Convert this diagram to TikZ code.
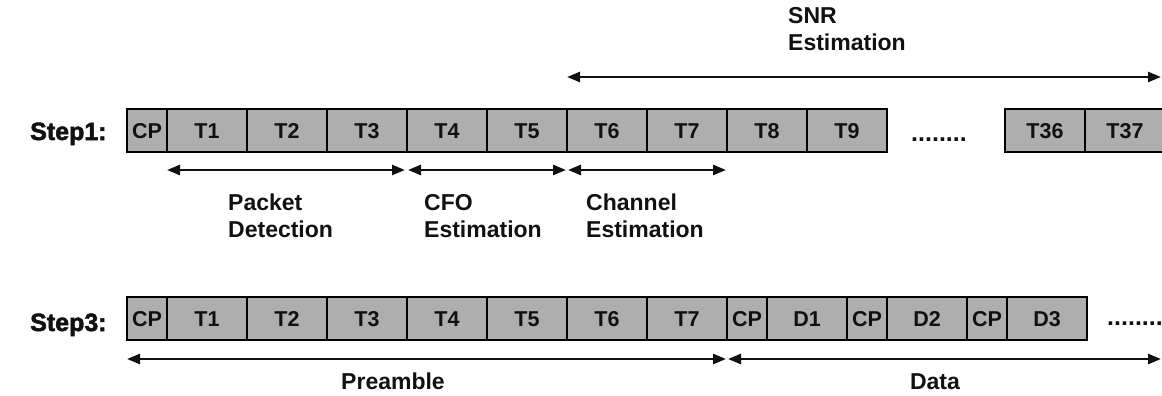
\documentclass[tikz,border=0pt]{standalone}
\usepackage{fontspec}
\setmainfont{Liberation Sans}
\newfontfamily\heavyfont{Liberation Sans Bold}[FakeBold=2]
\usepackage{tikz}
\usetikzlibrary{arrows.meta,positioning}
\definecolor{CellGray}{HTML}{AEAEAE}
\definecolor{Ink}{HTML}{111111}
\tikzset{
  cell/.style={
    draw=black,line width=2.2pt,fill=CellGray,
    inner sep=0pt,outer sep=0pt,
    minimum height=43pt,minimum width=80pt,
    text height=15.5pt,text depth=0pt,
    font=\fontsize{21.5}{24}\selectfont\bfseries,text=Ink
  },
  cpcell/.style={cell,minimum width=40pt},
  steplabel/.style={font=\fontsize{25}{30}\selectfont\heavyfont,text=Ink,inner sep=0pt},
  note/.style={
    font=\fontsize{23}{27}\selectfont\bfseries,text=Ink,
    align=left,inner sep=0pt
  },
  dots/.style={font=\fontsize{25}{30}\selectfont\bfseries,text=Ink,inner sep=0pt},
  span/.style={
    {Triangle[length=13pt,width=10pt]}-{Triangle[length=13pt,width=10pt]},
    line width=2.6pt,draw=Ink
  }
}
\begin{document}
\begin{tikzpicture}[x=1pt,y=-1pt]
  \useasboundingbox[fill=white] (0,0) rectangle (1162,396);

  % Step 1
  \node[steplabel,anchor=base west] (stepone) at (30,140) {Step1:};
  \node[cpcell,anchor=north west] (cpa) at (127,109) {CP};
  \node[cell,right=0pt of cpa] (t1a) {T1};
  \node[cell,right=0pt of t1a] (t2a) {T2};
  \node[cell,right=0pt of t2a] (t3a) {T3};
  \node[cell,right=0pt of t3a] (t4a) {T4};
  \node[cell,right=0pt of t4a] (t5a) {T5};
  \node[cell,right=0pt of t5a] (t6a) {T6};
  \node[cell,right=0pt of t6a] (t7a) {T7};
  \node[cell,right=0pt of t7a] (t8a) {T8};
  \node[cell,right=0pt of t8a] (t9a) {T9};
  \node[dots,anchor=base west] (dotsa) at (911,141) {........};
  \node[cell,anchor=north west] (t36a) at (1005,109) {T36};
  \node[cell,right=0pt of t36a] (t37a) {T37};

  \coordinate (snrend) at (1161,77);
  \draw[span] ([yshift=32pt]t6a.north west) -- (snrend);
  \node[note,anchor=base west] (snr) at (788,51) {SNR\\Estimation};

  \draw[span] ([yshift=-18pt]t1a.south west) -- ([yshift=-18pt,xshift=-2pt]t3a.south east);
  \draw[span] ([yshift=-18pt,xshift=1pt]t4a.south west) -- ([yshift=-18pt,xshift=-1pt]t5a.south east);
  \draw[span] ([yshift=-18pt,xshift=1pt]t6a.south west) -- ([yshift=-18pt,xshift=-1pt]t7a.south east);
  \node[note,anchor=base west] (pdet) at (228,237) {Packet\\Detection};
  \node[note,anchor=base west] (cfo) at (424,237) {CFO\\Estimation};
  \node[note,anchor=base west] (chan) at (586,237) {Channel\\Estimation};

  % Step 3
  \node[steplabel,anchor=base west] (stepthree) at (30,331) {Step3:};
  \node[cpcell,anchor=north west] (cpb) at (127,297) {CP};
  \node[cell,right=0pt of cpb] (t1b) {T1};
  \node[cell,right=0pt of t1b] (t2b) {T2};
  \node[cell,right=0pt of t2b] (t3b) {T3};
  \node[cell,right=0pt of t3b] (t4b) {T4};
  \node[cell,right=0pt of t4b] (t5b) {T5};
  \node[cell,right=0pt of t5b] (t6b) {T6};
  \node[cell,right=0pt of t6b] (t7b) {T7};
  \node[cpcell,right=0pt of t7b] (cpd1) {CP};
  \node[cell,right=0pt of cpd1] (d1) {D1};
  \node[cpcell,right=0pt of d1] (cpd2) {CP};
  \node[cell,right=0pt of cpd2] (d2) {D2};
  \node[cpcell,right=0pt of d2] (cpd3) {CP};
  \node[cell,right=0pt of cpd3] (d3) {D3};
  \node[dots,anchor=base west] (dotsb) at (1107,325) {........};

  \coordinate (dataend) at (1161,359);
  \draw[span] ([yshift=-19pt]cpb.south west) -- ([yshift=-19pt,xshift=-1pt]t7b.south east);
  \draw[span] ([yshift=-19pt,xshift=1pt]cpd1.south west) -- (dataend);
  \node[note,anchor=base] (pre) at (393,389) {Preamble};
  \node[note,anchor=base] (data) at (935,389) {Data};
\end{tikzpicture}
\end{document}
